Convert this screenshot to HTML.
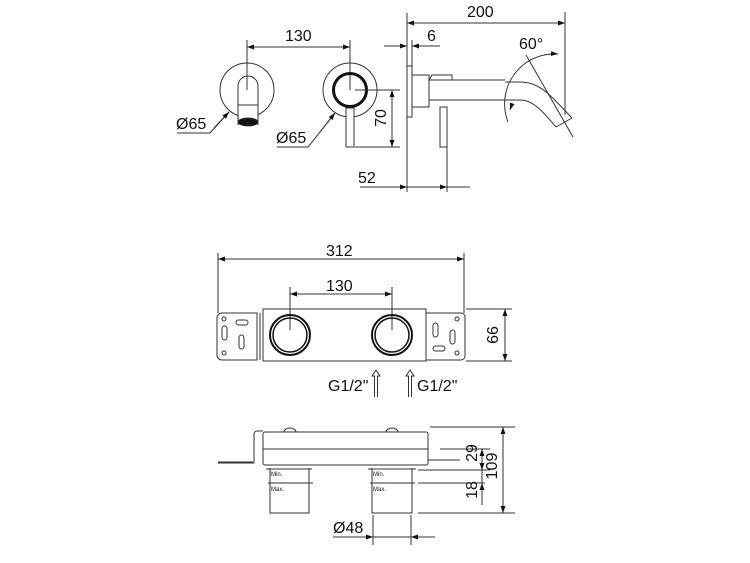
<!DOCTYPE html>
<html><head><style>body{margin:0;background:#fff}svg{display:block}text{font-family:"Liberation Sans",sans-serif;fill:#111}</style></head><body>
<svg width="750" height="563" viewBox="0 0 750 563" xmlns="http://www.w3.org/2000/svg">
<defs><marker id="a" viewBox="0 0 10 10" refX="10" refY="5" markerWidth="9" markerHeight="7" orient="auto-start-reverse" markerUnits="userSpaceOnUse"><path d="M0,1.5L10,5L0,8.5z" fill="#111"/></marker></defs>
<g stroke="#333" stroke-width="1" fill="none">
<circle cx="247" cy="90" r="27"/>
<path d="M238,125V86a10,10 0 0 1 20,0V125" fill="#fff"/>
<line x1="238" y1="105" x2="258" y2="105"/>
<ellipse cx="248" cy="122" rx="10" ry="4" fill="#111"/>
<line x1="247" y1="40" x2="247" y2="90"/>
<line x1="350" y1="40" x2="350" y2="90"/>
<line x1="247" y1="47" x2="350" y2="47" marker-start="url(#a)" marker-end="url(#a)"/>
<circle cx="350" cy="90" r="27"/>
<circle cx="350" cy="90" r="16.5" stroke="#111" stroke-width="3"/>
<rect x="346" y="108" width="8" height="39" fill="#fff"/>
<line x1="355" y1="90" x2="400" y2="90"/>
<line x1="355" y1="147" x2="400" y2="147"/>
<line x1="392" y1="90" x2="392" y2="147" marker-start="url(#a)" marker-end="url(#a)"/>
<polyline points="177,133 210,133 229,112" />
<line x1="214" y1="128" x2="229" y2="112" marker-end="url(#a)"/>
<polyline points="277,147 308,147 335,113"/>
<line x1="320" y1="132" x2="335" y2="113" marker-end="url(#a)"/>
<line x1="407" y1="13" x2="407" y2="192"/>
<rect x="407" y="66" width="5" height="51" fill="#fff"/>
<rect x="412" y="75" width="17" height="32"/>
<path d="M429,80H452V75H432z"/>
<line x1="429" y1="80" x2="505" y2="80"/>
<line x1="429" y1="100" x2="505" y2="100"/>
<path d="M505,82H520C540,82 550,95 572,118"/>
<path d="M505,100H520C532,100 540,108 556,127"/>
<line x1="556" y1="127" x2="572" y2="118"/>
<rect x="440" y="107" width="7" height="40" fill="#fff"/>
<line x1="447" y1="147" x2="447" y2="192"/>
<line x1="565" y1="12" x2="565" y2="115"/>
<line x1="407" y1="23" x2="565" y2="23" marker-start="url(#a)" marker-end="url(#a)"/>
<line x1="384" y1="46" x2="407" y2="46" marker-end="url(#a)"/>
<line x1="440" y1="46" x2="412" y2="46" marker-end="url(#a)"/>
<line x1="412" y1="40" x2="412" y2="66"/>
<line x1="360" y1="187" x2="470" y2="187"/>
<line x1="430" y1="187" x2="447" y2="187" marker-end="url(#a)"/>
<line x1="390" y1="187" x2="407" y2="187" marker-end="url(#a)"/>
<line x1="526" y1="55" x2="573" y2="137"/>
<path d="M558,54A50,50 0 0 0 508,122" marker-start="url(#a)"/>
<line x1="512" y1="104" x2="510" y2="110" marker-end="url(#a)"/>
<line x1="218" y1="253" x2="218" y2="313"/>
<line x1="464" y1="253" x2="464" y2="313"/>
<line x1="218" y1="259" x2="464" y2="259" marker-start="url(#a)" marker-end="url(#a)"/>
<line x1="290" y1="287" x2="290" y2="330"/>
<line x1="392" y1="287" x2="392" y2="330"/>
<line x1="290" y1="294" x2="392" y2="294" marker-start="url(#a)" marker-end="url(#a)"/>
<path d="M257,313H222a5,5 0 0 0 -5,5V355a5,5 0 0 0 5,5H257z"/>
<path d="M426,313H461a4,4 0 0 1 4,4V356a4,4 0 0 1 -4,4H426z"/>
<line x1="260" y1="313" x2="260" y2="360"/>
<rect x="263" y="309" width="163" height="52"/>
<circle cx="290" cy="335" r="20" stroke="#111" stroke-width="2"/>
<circle cx="290" cy="335" r="17" stroke="#111" stroke-width="1.5"/>
<circle cx="392" cy="335" r="20" stroke="#111" stroke-width="2"/>
<circle cx="392" cy="335" r="17" stroke="#111" stroke-width="1.5"/>
<circle cx="224" cy="319" r="2"/><circle cx="224" cy="353" r="2"/>
<circle cx="457" cy="319" r="2"/><circle cx="457" cy="353" r="2"/>
<rect x="236" y="320" width="12" height="5" rx="2.5"/>
<rect x="222" y="326" width="5" height="14" rx="2.5"/>
<rect x="239" y="335" width="5" height="14" rx="2.5"/>
<rect x="433" y="323" width="5" height="14" rx="2.5"/>
<rect x="450" y="330" width="5" height="14" rx="2.5"/>
<rect x="433" y="346" width="12" height="5" rx="2.5"/>
<line x1="466" y1="309" x2="512" y2="309"/>
<line x1="466" y1="361" x2="512" y2="361"/>
<line x1="505" y1="309" x2="505" y2="361" marker-start="url(#a)" marker-end="url(#a)"/>
<path d="M374.5,397V376H372l4,-6l4,6h-2.5V397"/>
<path d="M408.5,397V376H406l4,-6l4,6h-2.5V397"/>
<path d="M218,463H254V434a3,3 0 0 1 3,-3H263"/>
<path d="M218,462H253"/>
<path d="M428,433V460H460"/>
<rect x="263" y="432" width="165" height="33" rx="2"/>
<line x1="263" y1="449" x2="428" y2="449"/>
<path d="M284,432a6,4 0 0 1 12,0M386,432a6,4 0 0 1 12,0"/>
<path d="M270,468V513H309V468M372,468V513H412V468"/>
<line x1="268" y1="483" x2="313" y2="483"/>
<line x1="370" y1="483" x2="415" y2="483"/>
<line x1="266" y1="469" x2="312" y2="469"/>
<line x1="368" y1="469" x2="416" y2="469"/>
<line x1="430" y1="427" x2="515" y2="427"/>
<line x1="440" y1="449" x2="490" y2="449"/>
<line x1="418" y1="470" x2="490" y2="470"/>
<line x1="418" y1="483" x2="485" y2="483"/>
<line x1="418" y1="513" x2="515" y2="513"/>
<line x1="503" y1="427" x2="503" y2="513" marker-start="url(#a)" marker-end="url(#a)"/>
<line x1="482" y1="449" x2="482" y2="470" marker-start="url(#a)" marker-end="url(#a)"/>
<line x1="482" y1="470" x2="482" y2="505"/>
<line x1="482" y1="500" x2="482" y2="483" marker-end="url(#a)"/>
<line x1="373" y1="515" x2="373" y2="545"/>
<line x1="411" y1="515" x2="411" y2="545"/>
<line x1="333" y1="537" x2="435" y2="537"/>
<line x1="356" y1="537" x2="373" y2="537" marker-end="url(#a)"/>
<line x1="428" y1="537" x2="411" y2="537" marker-end="url(#a)"/>
</g>
<g font-size="16">
<text x="285" y="41">130</text>
<text x="467" y="17">200</text>
<text x="427" y="41">6</text>
<text x="519" y="49">60°</text>
<text x="358" y="183">52</text>
<text x="176" y="129">Ø65</text>
<text x="276" y="143">Ø65</text>
<text transform="translate(386,118) rotate(-90)" text-anchor="middle">70</text>
<text x="326" y="256">312</text>
<text x="326" y="291">130</text>
<text transform="translate(498,335) rotate(-90)" text-anchor="middle">66</text>
<text x="328" y="391">G1/2"</text>
<text x="417" y="391">G1/2"</text>
<text transform="translate(477,453) rotate(-90)" text-anchor="middle">29</text>
<text transform="translate(497,466) rotate(-90)" text-anchor="middle">109</text>
<text transform="translate(477,490) rotate(-90)" text-anchor="middle">18</text>
<text x="333" y="533">Ø48</text>
</g>
<g font-size="6">
<text x="271" y="476">Min.</text><text x="271" y="491">Max.</text>
<text x="373" y="476">Min.</text><text x="373" y="491">Max.</text>
</g>
</svg>
</body></html>
